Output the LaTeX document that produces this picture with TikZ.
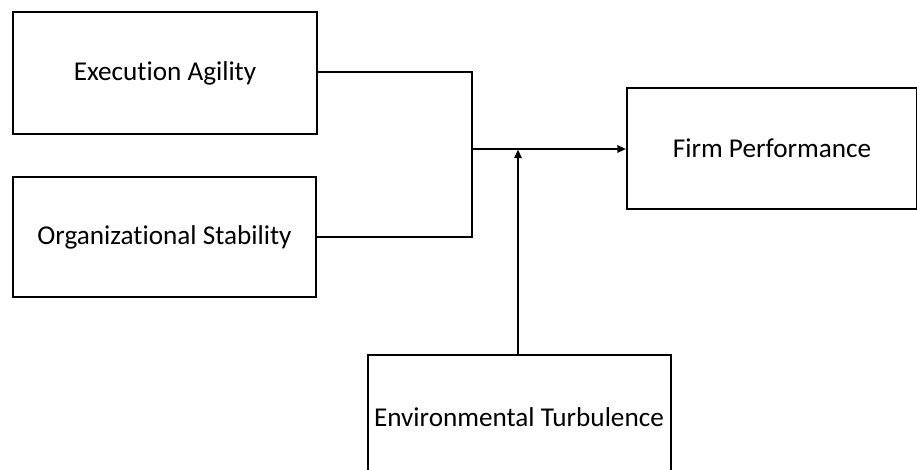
\documentclass[tikz,border=0pt]{standalone}
\usepackage{fontspec}
\setmainfont[Ligatures={NoCommon}]{Carlito}
\usetikzlibrary{arrows.meta}
\begin{document}
\begin{tikzpicture}[x=0.75pt,y=-0.75pt,
  box/.style={draw=black,line width=1.5pt,rectangle,inner sep=0pt,font=\fontsize{20.4}{24}\selectfont,align=center},
  conn/.style={draw=black,line width=1.5pt},
  arr/.style={conn,-{Triangle[length=6.5pt,width=5.5pt]}}]
\useasboundingbox[fill=white] (0,0) rectangle (917,470);
\node[box,minimum width=228pt,minimum height=91.5pt] (ea) at (165,73) {Execution Agility};
\node[box,minimum width=227.25pt,minimum height=90pt] (os) at (164.5,237) {Organizational Stability};
\node[box,minimum width=217.5pt,minimum height=90.75pt] (fp) at (772,148.5) {Firm Performance};
\node[box,minimum width=227.25pt,minimum height=93pt] (et) at (519,417) {Environmental Turbulence};
\coordinate (j) at (471.5,149);
\draw[conn] (ea.east |- 0,72.5) -| (j);
\draw[conn] (os.east) -| (j);
\draw[arr] (j) -- (fp.west |- j);
\draw[arr] (et.north -| 518,0) -- (518,149.5);
\end{tikzpicture}
\end{document}
